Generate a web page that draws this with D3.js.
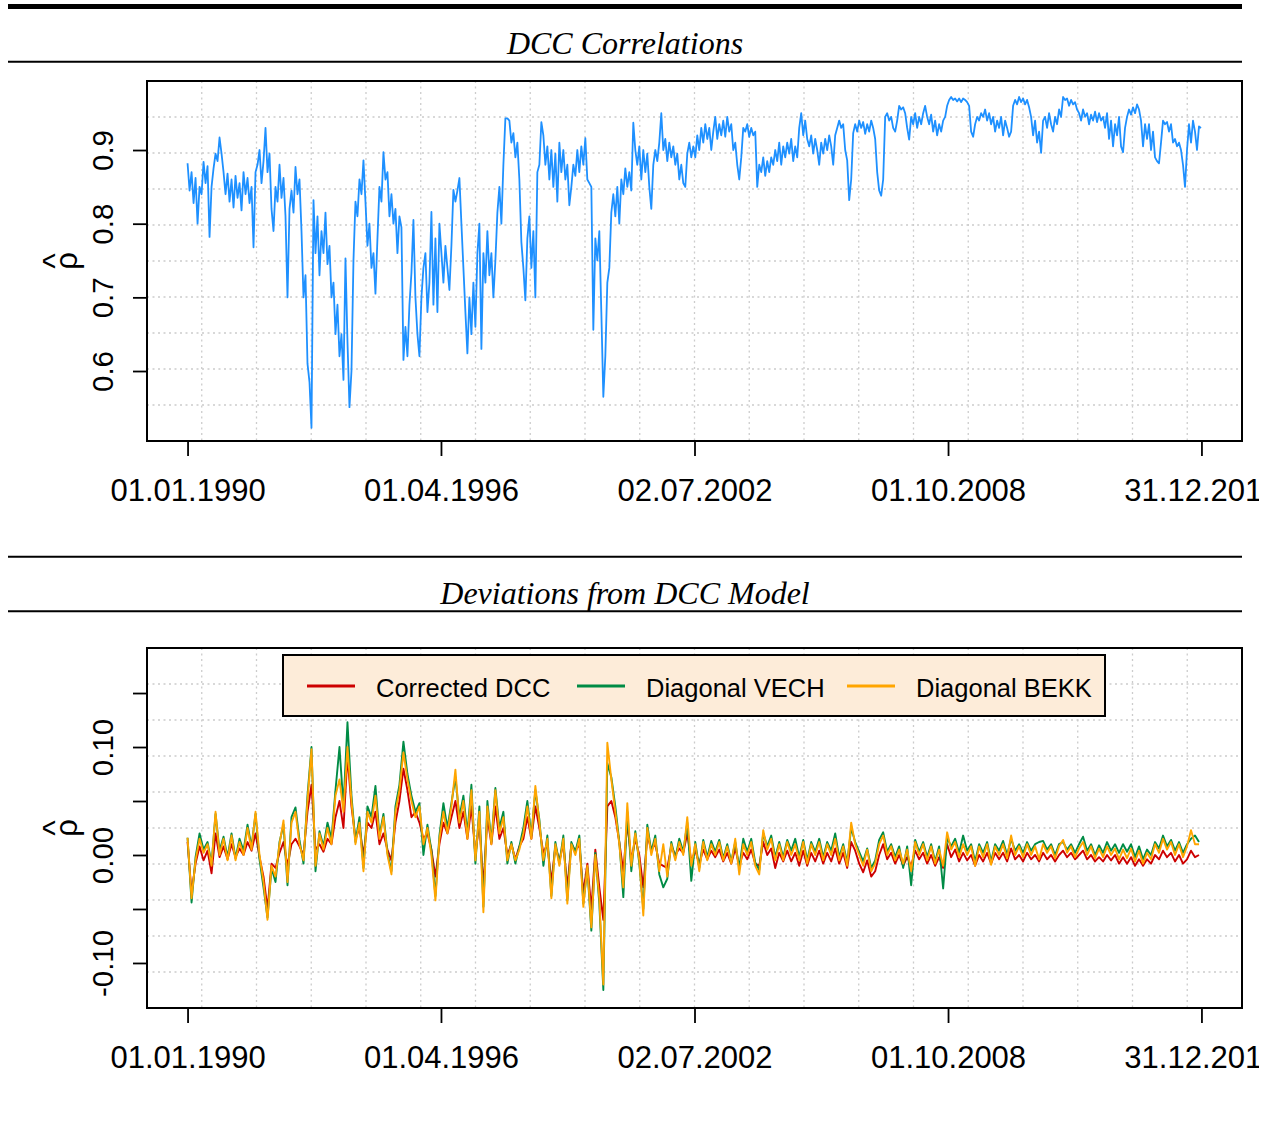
<!DOCTYPE html>
<html>
<head>
<meta charset="utf-8">
<script src="https://cdn.jsdelivr.net/npm/d3@7"></script>
<style>
  body { margin: 0; background: #fff; }
</style>
</head>
<body>
<div id="chart"></div>
<script>
// ---- data ----
const startDate = "1990-01-01";
const endDate = "2014-12-31";
const dccStep = 18;   // days between sampled DCC points
const devStep = 36;   // days between sampled deviation points

const xTickDates = ["1990-01-01", "1996-04-01", "2002-07-02", "2008-10-01", "2014-12-31"];
const xTickLabels = ["01.01.1990", "01.04.1996", "02.07.2002", "01.10.2008", "31.12.2014"];
const rhoTicks = [0.6, 0.7, 0.8, 0.9];
const devTicks = [-0.10, -0.05, 0.00, 0.05, 0.10, 0.15];
const devTickLabels = ["-0.10", "", "0.00", "", "0.10", ""];

const seriesNames = ["Corrected DCC", "Diagonal VECH", "Diagonal BEKK"];
const seriesColors = ["#CD0000", "#008B45", "#FFA500"];

const dccRho = [
  .882,.845,.870,.828,.862,.800,.850,.840,.884,.855,
  .878,.782,.850,.875,.895,.885,.917,.895,.870,.840,
  .868,.830,.860,.822,.865,.835,.855,.818,.870,.840,
  .862,.828,.850,.768,.870,.880,.900,.855,.885,.930,
  .870,.895,.820,.790,.850,.830,.880,.835,.862,.810,
  .700,.820,.845,.815,.877,.840,.860,.790,.700,.730,
  .610,.585,.523,.832,.760,.810,.730,.790,.760,.815,
  .745,.770,.700,.720,.650,.690,.620,.650,.588,.753,
  .640,.551,.600,.750,.830,.810,.860,.840,.886,.830,
  .770,.800,.740,.760,.705,.780,.850,.830,.897,.860,
  .870,.810,.840,.800,.820,.760,.810,.795,.615,.660,
  .620,.690,.733,.805,.700,.650,.620,.700,.740,.760,
  .680,.720,.816,.690,.780,.680,.800,.760,.720,.770,
  .740,.710,.770,.846,.830,.845,.862,.800,.740,.680,
  .624,.700,.650,.720,.660,.760,.800,.630,.760,.720,
  .790,.730,.760,.700,.750,.815,.850,.800,.880,.943,
  .943,.940,.910,.923,.890,.910,.860,.775,.740,.696,
  .780,.810,.740,.790,.700,.870,.880,.938,.920,.880,
  .905,.860,.900,.850,.895,.830,.910,.870,.900,.860,
  .880,.825,.850,.880,.865,.900,.870,.905,.880,.916,
  .860,.855,.850,.656,.780,.750,.790,.680,.565,.620,
  .720,.740,.815,.840,.810,.850,.800,.860,.840,.875,
  .850,.870,.845,.937,.900,.880,.905,.860,.900,.870,
  .895,.850,.820,.880,.900,.885,.910,.950,.900,.915,
  .885,.910,.890,.905,.880,.895,.860,.880,.855,.850,
  .895,.910,.890,.905,.890,.920,.900,.930,.910,.935,
  .915,.930,.900,.925,.945,.915,.935,.920,.940,.918,
  .945,.925,.935,.900,.910,.880,.860,.890,.930,.925,
  .935,.918,.930,.920,.925,.850,.880,.870,.890,.865,
  .885,.870,.890,.880,.900,.885,.910,.880,.905,.890,
  .910,.895,.915,.885,.905,.890,.930,.950,.920,.940,
  .915,.905,.920,.895,.915,.900,.880,.910,.895,.915,
  .900,.920,.905,.880,.920,.930,.940,.930,.935,.900,
  .886,.832,.860,.923,.935,.925,.940,.930,.938,.922,
  .935,.925,.940,.930,.915,.870,.845,.838,.860,.945,
  .950,.940,.945,.930,.925,.940,.960,.955,.958,.950,
  .930,.914,.945,.935,.950,.930,.945,.935,.950,.960,
  .945,.935,.948,.925,.940,.920,.935,.925,.940,.945,
  .960,.968,.972,.968,.970,.966,.970,.965,.970,.968,
  .965,.960,.925,.918,.935,.945,.940,.950,.945,.955,
  .940,.950,.935,.945,.925,.940,.930,.945,.920,.940,
  .930,.918,.925,.960,.968,.962,.972,.965,.970,.962,
  .968,.958,.945,.920,.940,.910,.925,.896,.940,.945,
  .930,.950,.935,.925,.945,.935,.955,.945,.972,.968,
  .970,.960,.968,.962,.965,.955,.950,.940,.955,.945,
  .950,.935,.948,.940,.952,.938,.950,.940,.945,.930,
  .950,.915,.940,.905,.935,.920,.945,.905,.897,.930,
  .945,.955,.948,.958,.950,.962,.955,.940,.905,.935,
  .915,.935,.900,.925,.890,.885,.882,.910,.940,.935,
  .938,.925,.935,.910,.915,.905,.910,.900,.880,.850,
  .900,.935,.910,.940,.925,.900,.932,.930
];

const devBEKK = [
  .016,-.040,-.005,.015,.002,.010,-.010,.040,.000,.015,
  -.005,.018,-.005,.012,.000,.025,.005,.040,.000,-.025,
  -.060,-.010,-.020,.010,.032,-.025,.030,.040,.010,-.005,
  .050,.098,-.010,.020,.005,.025,.010,.055,.070,.040,
  .100,.050,.010,.030,-.015,.040,.030,.055,.015,.035,
  .000,-.018,.040,.060,.095,.070,.050,.035,.045,.010,
  .025,.000,-.042,.015,.040,.020,.045,.079,.030,.050,
  .015,.060,-.005,.040,-.053,.045,.010,.060,.020,.035,
  -.005,.010,-.005,.005,.020,.045,.015,.064,.030,-.005,
  .015,-.040,.010,-.010,.015,-.045,.010,.000,.015,-.048,
  -.010,-.067,.000,-.040,-.120,.104,.070,.040,.010,-.030,
  .048,-.010,.020,-.005,-.056,.025,.000,.015,-.015,.010,
  -.020,.010,-.005,.012,.000,.035,-.010,.010,-.015,.012,
  -.005,.010,.000,.012,-.005,.008,-.008,.015,-.018,.010,
  .000,.012,-.010,-.018,.023,.005,.015,-.005,.010,-.005,
  .012,.000,.010,-.005,.012,-.008,.010,.000,.012,-.005,
  .010,.000,.015,-.005,.008,-.010,.030,.010,.000,-.010,
  .005,-.015,-.008,.010,.018,.000,.008,-.005,.005,-.008,
  .005,-.015,.012,.000,.010,-.005,.008,-.008,.005,-.010,
  .021,.005,.012,-.002,.010,.000,.008,-.010,.008,-.002,
  .010,-.009,.008,.000,.010,-.003,.018,.000,.008,-.002,
  .010,.000,.008,-.004,.010,.002,.008,-.003,.008,.014,
  .002,.008,-.002,.006,.012,.000,.008,-.003,.006,-.002,
  .008,.000,.006,-.004,.005,-.003,.006,-.006,.004,-.008,
  .002,-.004,.010,.002,.015,.005,.012,.000,.010,-.002,
  .008,.023,.010,.010
];

const devVECH = [
  .016,-.044,-.002,.020,.005,.012,-.008,.038,.004,.017,
  -.002,.020,-.003,.015,.004,.028,.008,.038,-.004,-.030,
  -.058,-.012,-.025,.012,.028,-.028,.035,.044,.014,-.008,
  .055,.100,-.015,.022,.008,.030,.015,.060,.100,.045,
  .123,.055,.012,.035,-.012,.045,.035,.064,.018,.038,
  .002,-.015,.045,.065,.105,.075,.055,.040,.048,.000,
  .028,.004,-.038,.018,.048,.025,.048,.072,.035,.055,
  .020,.065,-.008,.045,-.048,.050,.012,.062,.025,.040,
  -.008,.012,-.008,.008,.025,.050,.018,.060,.033,-.010,
  .018,-.038,.012,-.008,.018,-.042,.012,.003,.018,-.045,
  -.012,-.070,.002,-.045,-.125,.085,.072,.045,.012,-.039,
  .040,-.015,.022,-.008,-.050,.028,.003,.018,-.018,-.030,
  -.022,.012,-.003,.015,.003,.030,-.024,.012,-.012,.014,
  -.002,.013,.003,.014,-.003,.010,-.006,.012,-.012,.015,
  .003,.015,-.007,-.014,.020,.008,.018,-.002,.012,-.002,
  .014,.004,.015,-.002,.014,-.005,.012,.003,.015,-.002,
  .012,.004,.020,-.002,.010,-.007,.025,.012,.003,-.006,
  .006,-.012,-.005,.014,.021,.003,.010,-.002,.008,-.012,
  .008,-.028,.014,.003,.012,-.002,.010,-.006,.008,-.031,
  .016,.008,.015,.002,.018,.004,.010,-.006,.010,.002,
  .012,-.006,.010,.004,.013,.000,.015,.004,.010,.002,
  .012,.004,.010,.012,.013,.005,.010,.000,.010,.012,
  .005,.010,.002,.010,.017,.004,.010,.000,.009,.002,
  .012,.004,.010,.002,.010,.003,.010,-.002,.008,-.004,
  .005,.000,.012,.006,.018,.008,.014,.004,.012,.002,
  .010,.015,.018,.012
];

const devDCC = [
  .012,-.035,-.008,.008,-.005,.004,-.017,.020,-.002,.008,
  -.004,.010,-.002,.006,.000,.012,.004,.020,-.002,-.020,
  -.050,-.008,-.012,.002,.012,-.010,.010,.015,.008,.000,
  .040,.065,.005,.010,.003,.015,.010,.035,.050,.025,
  .092,.045,.015,.025,.000,.030,.025,.040,.010,.020,
  .005,-.005,.030,.050,.080,.060,.035,.040,.030,.015,
  .020,.005,-.020,.010,.030,.020,.035,.050,.025,.040,
  .015,.045,.000,.030,-.030,.035,.010,.045,.015,.025,
  .000,.010,-.004,.008,.015,.035,.015,.045,.025,.002,
  .010,-.025,.008,-.005,.010,-.030,.010,.004,.010,-.035,
  -.008,-.050,.005,-.030,-.060,.045,.050,.035,.012,-.015,
  .030,-.005,.015,.000,-.030,.018,.005,.010,-.008,-.010,
  -.012,.008,.000,.006,.002,.020,-.006,.004,-.008,.005,
  -.004,.004,-.002,.005,-.006,.002,-.008,.006,-.010,.002,
  -.004,.005,-.008,-.010,.012,.000,.006,-.012,.002,-.006,
  .004,-.006,.002,-.010,.004,-.010,.002,-.006,.004,-.008,
  .002,-.006,.006,-.008,.002,-.012,.012,.004,-.008,-.016,
  -.005,-.020,-.015,.000,.010,-.004,.002,-.008,.000,-.010,
  -.002,-.010,.004,-.004,.002,-.008,.000,-.010,-.002,-.012,
  .010,-.002,.005,-.006,.002,-.005,.000,-.010,.000,-.006,
  .002,-.008,.002,-.004,.002,-.006,.006,-.004,.000,-.006,
  .002,-.004,.000,-.006,.002,-.004,.000,-.006,.000,.004,
  -.002,.002,-.004,.000,.004,-.004,.000,-.006,-.002,-.006,
  .000,-.005,.000,-.008,-.002,-.008,-.002,-.010,-.004,-.010,
  -.004,-.008,.000,-.004,.004,-.002,.002,-.006,.000,-.008,
  -.004,.004,-.002,.000
];

// ---- layout ----
const W = 1271, H = 1142;
const sansFont = "'Liberation Sans', Arial, sans-serif";
const serifFont = "'Liberation Serif', 'Times New Roman', serif";

const parse = d3.utcParse("%Y-%m-%d");
const t0 = parse(startDate), t1 = parse(endDate);
const dccDates = dccRho.map((_, i) => d3.utcDay.offset(t0, i * dccStep));
const devDates = devBEKK.map((_, i) => d3.utcDay.offset(t0, i * devStep));

const svg = d3.select("#chart").append("svg")
  .attr("width", W)
  .attr("height", H)
  .style("background", "#fff");

const defs = svg.append("defs");
// the reference image is cut at its right side, clipping the last date label
defs.append("clipPath").attr("id", "pageClip")
  .append("rect").attr("x", 0).attr("y", -2000).attr("width", 1259).attr("height", 5000);

// header rules and titles
function header(ruleTop, ruleTopWidth, ruleBottom, title, titleY) {
  svg.append("line")
    .attr("x1", 8).attr("x2", 1242)
    .attr("y1", ruleTop).attr("y2", ruleTop)
    .attr("stroke", "#000").attr("stroke-width", ruleTopWidth);
  svg.append("line")
    .attr("x1", 8).attr("x2", 1242)
    .attr("y1", ruleBottom).attr("y2", ruleBottom)
    .attr("stroke", "#000").attr("stroke-width", 2);
  svg.append("text")
    .attr("x", 625).attr("y", titleY)
    .attr("text-anchor", "middle")
    .attr("font-family", serifFont)
    .attr("font-style", "italic")
    .attr("font-size", 32)
    .text(title);
}

function drawPanel(box, yDomain, yTicks, yLabels, labelY) {
  const g = svg.append("g");
  const pad = (box.right - box.left) * 0.04 / 1.08;
  const x = d3.scaleUtc().domain([t0, t1]).range([box.left + pad, box.right - pad]);
  const y = d3.scaleLinear().domain(yDomain).range([box.bottom, box.top]);

  // dotted grid, 20 x 10 cells
  const grid = g.append("g")
    .attr("stroke", "#cccccc")
    .attr("stroke-width", 1.3)
    .attr("stroke-dasharray", "2,3.5");
  const cw = (box.right - box.left) / 20, ch = (box.bottom - box.top) / 10;
  d3.range(1, 20).forEach(i => {
    grid.append("line")
      .attr("x1", box.left + i * cw).attr("x2", box.left + i * cw)
      .attr("y1", box.top).attr("y2", box.bottom);
  });
  d3.range(1, 10).forEach(i => {
    grid.append("line")
      .attr("x1", box.left).attr("x2", box.right)
      .attr("y1", box.top + i * ch).attr("y2", box.top + i * ch);
  });

  // x axis
  const xAxis = g.append("g")
    .attr("transform", `translate(0,${box.bottom})`)
    .attr("clip-path", "url(#pageClip)")
    .call(d3.axisBottom(x)
      .tickValues(xTickDates.map(parse))
      .tickFormat((d, i) => xTickLabels[i])
      .tickSize(15));
  xAxis.select(".domain").remove();
  xAxis.selectAll(".tick line").attr("stroke", "#000").attr("stroke-width", 1.8);
  xAxis.selectAll(".tick text")
    .attr("y", 60).attr("dy", null)
    .attr("fill", "#000")
    .attr("font-family", sansFont)
    .attr("font-size", 31);

  // y axis
  const yAxis = g.append("g")
    .attr("transform", `translate(${box.left},0)`)
    .call(d3.axisLeft(y)
      .tickValues(yTicks)
      .tickFormat((d, i) => yLabels[i])
      .tickSize(14));
  yAxis.select(".domain").remove();
  yAxis.selectAll(".tick line").attr("stroke", "#000").attr("stroke-width", 1.8);
  yAxis.selectAll(".tick text")
    .attr("x", null).attr("dy", null)
    .attr("transform", "translate(-34,0) rotate(-90)")
    .attr("text-anchor", "middle")
    .attr("fill", "#000")
    .attr("font-family", sansFont)
    .attr("font-size", 29.5);

  // rho-hat axis title
  const cy = (box.top + box.bottom) / 2;
  const lab = g.append("g").attr("transform", `translate(${labelY},${cy}) rotate(-90)`);
  lab.append("text")
    .attr("x", 0).attr("y", 17)
    .attr("text-anchor", "middle")
    .attr("font-family", sansFont)
    .attr("font-size", 31)
    .text("ρ");
  lab.append("text")
    .attr("x", 0).attr("y", 6)
    .attr("text-anchor", "middle")
    .attr("font-family", sansFont)
    .attr("font-size", 33)
    .text("^");

  // clip for the data lines
  const clipId = "clip" + Math.round(box.top);
  defs.append("clipPath").attr("id", clipId)
    .append("rect")
    .attr("x", box.left).attr("y", box.top)
    .attr("width", box.right - box.left).attr("height", box.bottom - box.top);

  const plot = g.append("g").attr("clip-path", `url(#${clipId})`);
  return { g, plot, x, y, box };
}

// ---- top panel: DCC correlations ----
header(6.5, 5, 61.8, "DCC Correlations", 54);
const p1 = drawPanel({ left: 147, top: 81, right: 1242, bottom: 441 },
  [0.505, 0.9937], rhoTicks, rhoTicks.map(d => d3.format(".1f")(d)), 60);

p1.plot.append("path")
  .datum(dccRho)
  .attr("fill", "none")
  .attr("stroke", "#1E90FF")
  .attr("stroke-width", 1.8)
  .attr("stroke-linejoin", "round")
  .attr("d", d3.line()
    .x((d, i) => p1.x(dccDates[i]))
    .y(d => p1.y(d)));

p1.g.append("rect")
  .attr("x", 147).attr("y", 81).attr("width", 1242 - 147).attr("height", 441 - 81)
  .attr("fill", "none").attr("stroke", "#000").attr("stroke-width", 2);

// ---- bottom panel: deviations ----
header(556.7, 2, 611.2, "Deviations from DCC Model", 604);
const p2 = drawPanel({ left: 147, top: 648, right: 1242, bottom: 1008 },
  [-0.1417, 0.1917], devTicks, devTickLabels, 60);

[devDCC, devVECH, devBEKK].forEach((series, s) => {
  p2.plot.append("path")
    .datum(series)
    .attr("fill", "none")
    .attr("stroke", seriesColors[s])
    .attr("stroke-width", 1.9)
    .attr("stroke-linejoin", "round")
    .attr("d", d3.line()
      .x((d, i) => p2.x(devDates[i]))
      .y(d => p2.y(d)));
});

// legend
const legend = p2.g.append("g").attr("transform", "translate(283,655)");
legend.append("rect")
  .attr("width", 822).attr("height", 61)
  .attr("fill", "#FDECD9")
  .attr("stroke", "#000").attr("stroke-width", 2);
seriesNames.forEach((name, i) => {
  const item = legend.append("g").attr("transform", `translate(${24 + i * 270},0)`);
  item.append("line")
    .attr("x1", 0).attr("x2", 48)
    .attr("y1", 31).attr("y2", 31)
    .attr("stroke", seriesColors[i]).attr("stroke-width", 3);
  item.append("text")
    .attr("x", 69).attr("y", 42)
    .attr("font-family", sansFont)
    .attr("font-size", 25.5)
    .text(name);
});

p2.g.append("rect")
  .attr("x", 147).attr("y", 648).attr("width", 1242 - 147).attr("height", 1008 - 648)
  .attr("fill", "none").attr("stroke", "#000").attr("stroke-width", 2);
</script>
</body>
</html>
